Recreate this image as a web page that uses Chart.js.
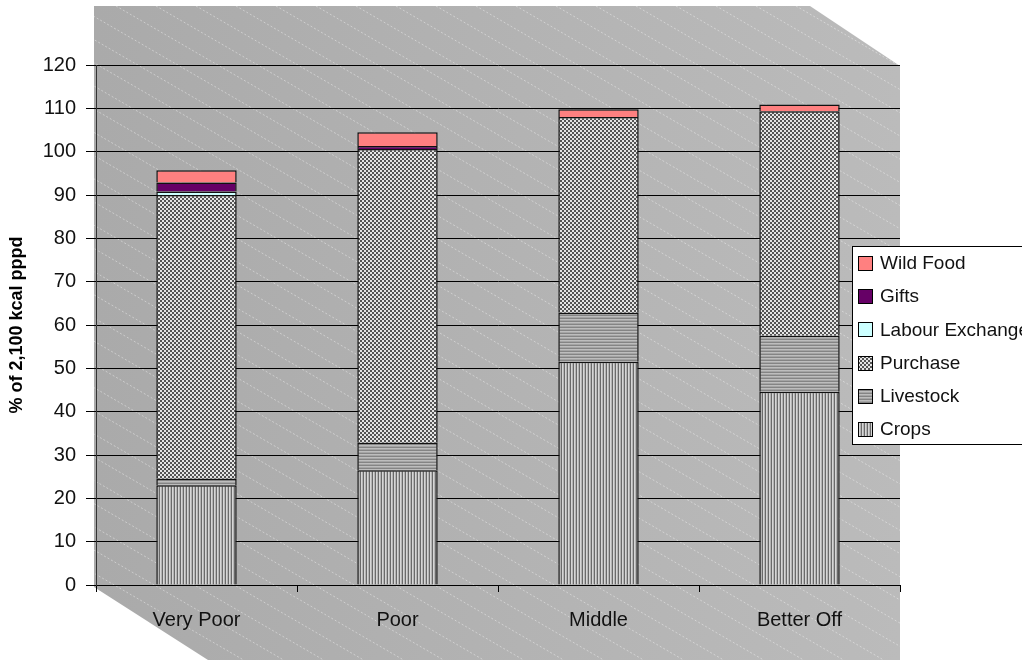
<!DOCTYPE html>
<html>
<head>
<meta charset="utf-8">
<script src="https://cdn.jsdelivr.net/npm/chart.js@4/dist/chart.umd.min.js"></script>
<style>
  html, body { margin: 0; padding: 0; background: #fff; }
</style>
</head>
<body>
<canvas id="myChart" width="1022" height="660"></canvas>
<script>
// data (% of 2,100 kcal pppd); null = no segment
const categories = ['Very Poor', 'Poor', 'Middle', 'Better Off'];
const crops = [23, 26.5, 51.5, 44.6];
const livestock = [1.5, 6.3, 11.3, 12.9];
const purchase = [65.5, 67.8, 45.2, 51.8];
const labourExchange = [0.8, null, null, null];
const gifts = [2.1, 0.7, null, null];
const wildFood = [2.8, 3.2, 1.8, 1.6];
const yTicks = [0, 10, 20, 30, 40, 50, 60, 70, 80, 90, 100, 110, 120];

const FONT = '"Liberation Sans", Arial, sans-serif';

// little tiles for the hatched fills
function makePattern(w, h, paint) {
  const c = document.createElement('canvas');
  c.width = w; c.height = h;
  const g = c.getContext('2d');
  paint(g);
  return document.getElementById('myChart').getContext('2d').createPattern(c, 'repeat');
}
const cropsFill = makePattern(3, 1, g => {
  g.fillStyle = '#d6d6d6'; g.fillRect(0, 0, 3, 1);
  g.fillStyle = '#6a6a6a'; g.fillRect(0, 0, 1, 1);
  g.fillStyle = '#b4b4b4'; g.fillRect(2, 0, 1, 1);
});
const livestockFill = makePattern(1, 3, g => {
  g.fillStyle = '#bdbdbd'; g.fillRect(0, 0, 1, 3);
  g.fillStyle = '#848484'; g.fillRect(0, 0, 1, 1);
  g.fillStyle = '#a4a4a4'; g.fillRect(0, 2, 1, 1);
});
const purchaseFill = makePattern(4, 4, g => {
  g.fillStyle = '#e6e6e6'; g.fillRect(0, 0, 4, 4);
  g.fillStyle = '#555555'; g.fillRect(0, 0, 2, 2); g.fillRect(2, 2, 2, 2);
});

// grey wall behind the plot, with the faint diagonal texture
const backdrop = {
  id: 'backdrop',
  beforeDraw(chart) {
    const { ctx, chartArea: a, height } = chart;
    const top = a.top - 59;
    ctx.save();
    ctx.beginPath();
    ctx.moveTo(a.left - 2, top);
    ctx.lineTo(a.right - 90, top);
    ctx.lineTo(a.right, top + 60);
    ctx.lineTo(a.right, height);
    ctx.lineTo(a.left + 112, height);
    ctx.lineTo(a.left - 2, a.bottom + 2);
    ctx.closePath();
    const grad = ctx.createLinearGradient(a.left, 0, a.right, 0);
    grad.addColorStop(0, '#aaaaaa');
    grad.addColorStop(1, '#bbbbbb');
    ctx.fillStyle = grad;
    ctx.fill();
    ctx.clip();
    ctx.strokeStyle = 'rgba(255,255,255,0.4)';
    ctx.lineWidth = 1;
    ctx.setLineDash([2, 2]);
    for (let x = a.left - 1300; x < a.right; x += 40) {
      ctx.beginPath();
      ctx.moveTo(x, top);
      ctx.lineTo(x + 1200, top + 1200 * 0.58);
      ctx.stroke();
    }
    ctx.restore();
  }
};

// boxed legend overlapping the right edge, like the original
const boxLegend = {
  id: 'boxLegend',
  afterDraw(chart) {
    const ctx = chart.ctx;
    const x0 = 852, y0 = 246, w = 220, h = 198;
    ctx.save();
    ctx.fillStyle = '#fff';
    ctx.fillRect(x0, y0, w, h);
    ctx.strokeStyle = '#000';
    ctx.lineWidth = 1;
    ctx.strokeRect(x0 + 0.5, y0 + 0.5, w, h);
    ctx.font = '19px ' + FONT;
    ctx.textBaseline = 'middle';
    const sets = chart.data.datasets.slice().reverse();
    sets.forEach((ds, i) => {
      const cy = y0 + 17 + i * 33.2;
      ctx.fillStyle = ds.backgroundColor;
      ctx.fillRect(x0 + 6, Math.round(cy - 7), 14, 14);
      ctx.strokeStyle = '#000';
      ctx.strokeRect(x0 + 6.5, Math.round(cy - 7) + 0.5, 14, 14);
      ctx.fillStyle = '#111';
      ctx.fillText(ds.label, x0 + 28, cy + 1);
    });
    ctx.restore();
  }
};

// no bottom border: the segment below draws its top edge there already
const barOpts = {
  borderColor: '#111',
  borderWidth: { top: 1.5, left: 1.5, right: 1.5, bottom: 0 },
  borderSkipped: false,
  barPercentage: 0.4,
  categoryPercentage: 1
};

new Chart('myChart', {
  type: 'bar',
  data: {
    labels: categories,
    datasets: [
      Object.assign({ label: 'Crops', data: crops, backgroundColor: cropsFill }, barOpts),
      Object.assign({ label: 'Livestock', data: livestock, backgroundColor: livestockFill }, barOpts),
      Object.assign({ label: 'Purchase', data: purchase, backgroundColor: purchaseFill }, barOpts),
      Object.assign({ label: 'Labour Exchange', data: labourExchange, backgroundColor: '#ccffff' }, barOpts),
      Object.assign({ label: 'Gifts', data: gifts, backgroundColor: '#660066' }, barOpts),
      Object.assign({ label: 'Wild Food', data: wildFood, backgroundColor: '#ff8080' }, barOpts)
    ]
  },
  options: {
    responsive: false,
    devicePixelRatio: 1,
    animation: false,
    layout: { padding: { top: 65, right: 122, left: 0, bottom: 0 } },
    plugins: { legend: { display: false }, tooltip: { enabled: false } },
    scales: {
      x: {
        stacked: true,
        afterFit: s => { s.height = 75; },
        grid: { offset: true, drawOnChartArea: false, drawTicks: true, tickLength: 7, color: '#000' },
        border: { color: '#000' },
        ticks: { color: '#111', font: { family: FONT, size: 20 }, padding: 16 }
      },
      y: {
        stacked: true,
        min: 0,
        max: 120,
        afterFit: s => { s.width = 96; },
        afterBuildTicks: s => { s.ticks = yTicks.map(v => ({ value: v })); },
        grid: { color: '#000', tickLength: 10 },
        border: { color: '#333' },
        ticks: { color: '#111', font: { family: FONT, size: 20 }, padding: 10 },
        title: {
          display: true,
          text: '% of 2,100 kcal pppd',
          color: '#000',
          font: { family: FONT, size: 18, weight: 'bold' },
          padding: { top: 6, bottom: 0 }
        }
      }
    }
  },
  plugins: [backdrop, boxLegend]
});
</script>
</body>
</html>
